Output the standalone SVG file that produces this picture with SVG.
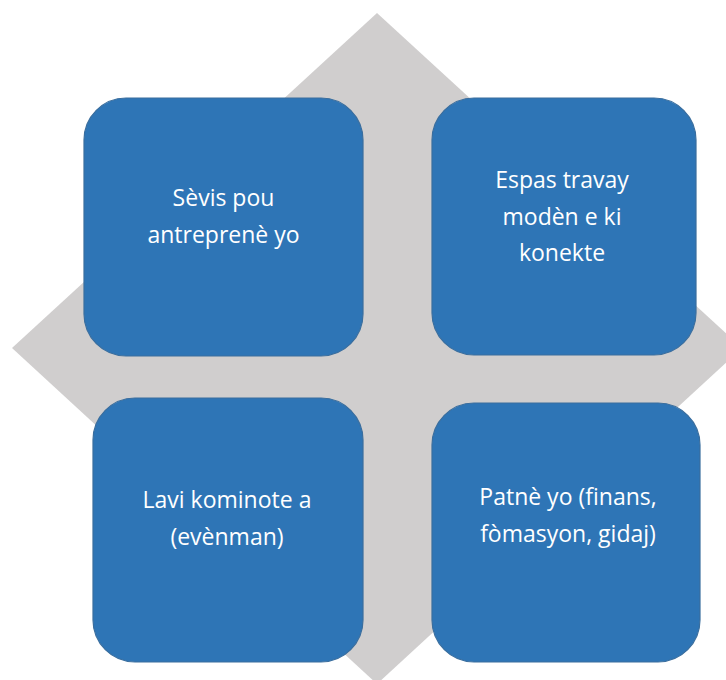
<svg xmlns="http://www.w3.org/2000/svg" width="726" height="680" viewBox="0 0 726 680">
<style>
.box{fill:#2E75B6;stroke:#3A6E9E;stroke-width:1.2}
.lbl{fill:#FFFFFF;font-family:"Open Sans","Liberation Sans",Arial,sans-serif;font-size:23px;text-anchor:middle}
</style>
<rect width="726" height="680" fill="#FFFFFF"/>
<g id="background">
<polygon points="377,13 12,348 377,684 742,348" fill="#D0CECE"/>
</g>
<g id="connectors"></g>
<g id="node1">
<rect class="box" x="84" y="98" width="279" height="258" rx="42" ry="42"/>
<text class="lbl" x="223.5" y="206">Sèvis pou</text>
<text class="lbl" x="223.5" y="243">antreprenè yo</text>
</g>
<g id="node2">
<rect class="box" x="432" y="98" width="264" height="257" rx="42" ry="42"/>
<text class="lbl" x="562" y="188">Espas travay</text>
<text class="lbl" x="562" y="225">modèn e ki</text>
<text class="lbl" x="562" y="261">konekte</text>
</g>
<g id="node3">
<rect class="box" x="93" y="398" width="270" height="264" rx="42" ry="42"/>
<text class="lbl" x="227" y="508">Lavi kominote a</text>
<text class="lbl" x="227" y="545">(evènman)</text>
</g>
<g id="node4">
<rect class="box" x="432" y="403" width="268" height="259" rx="42" ry="42"/>
<text class="lbl" x="568" y="505">Patnè yo (finans,</text>
<text class="lbl" x="568" y="542">fòmasyon, gidaj)</text>
</g>
</svg>
